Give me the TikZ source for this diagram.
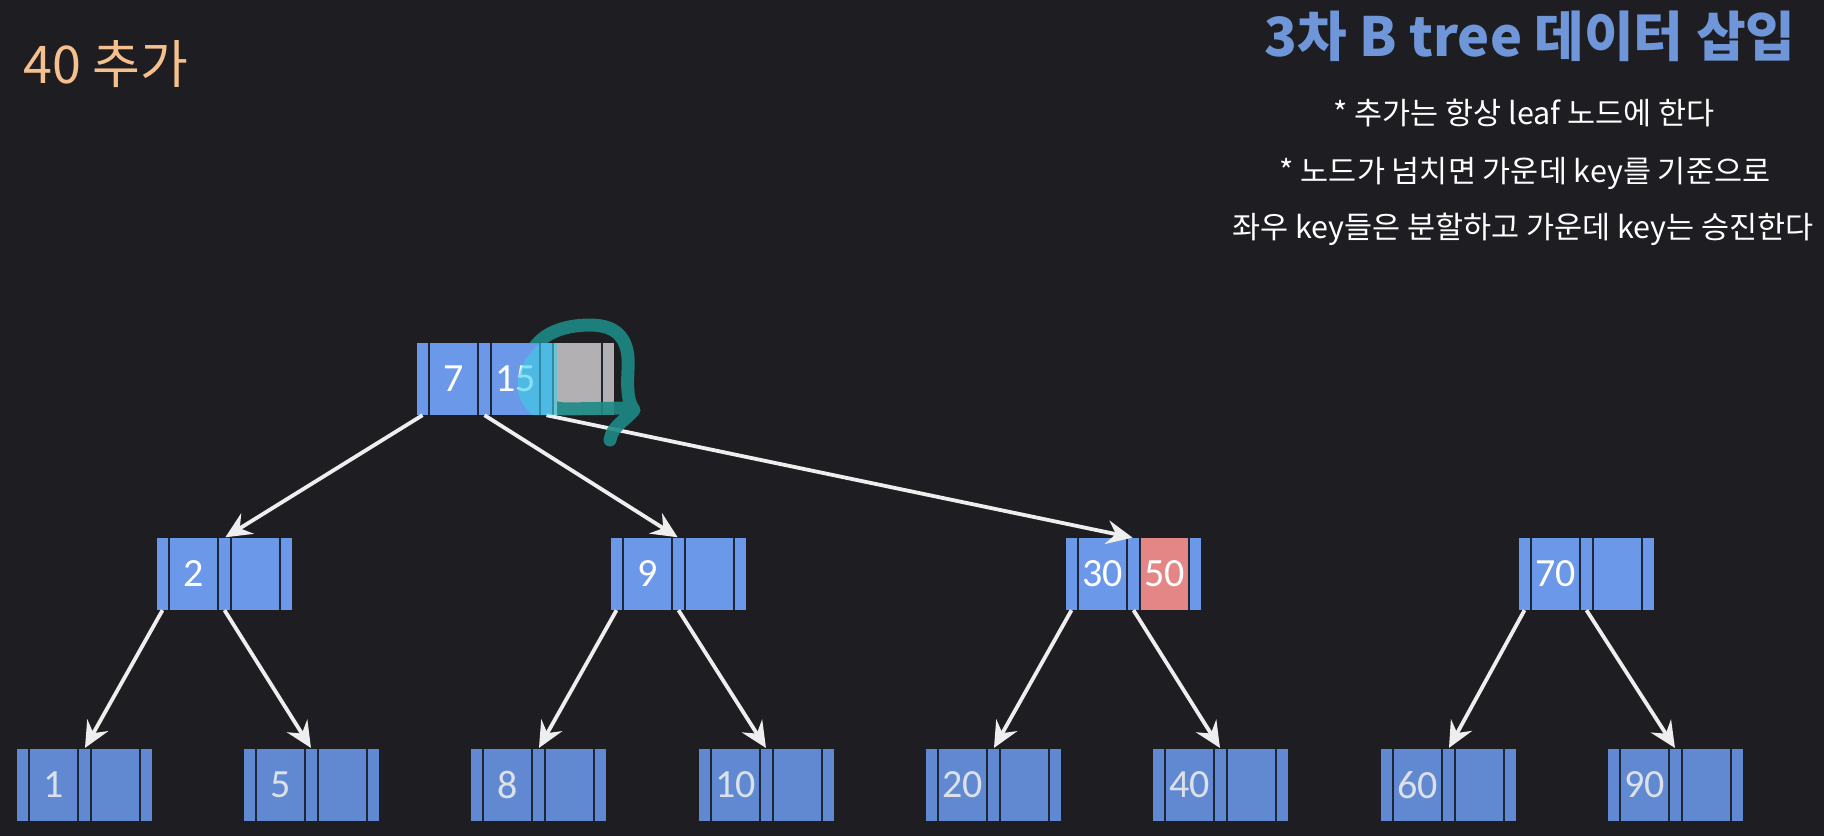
\documentclass[tikz,border=0pt]{standalone}
\usepackage{fontspec}
\setmainfont{Carlito}
\newfontfamily\kr{Noto Sans CJK KR}
\usetikzlibrary{arrows.meta}
\definecolor{bg}{HTML}{1E1D21}
\definecolor{sepc}{HTML}{1F2636}
\definecolor{upblue}{HTML}{6B98E8}
\definecolor{leafblue}{HTML}{6089D2}
\definecolor{greyc}{HTML}{B2B0B3}
\definecolor{redc}{HTML}{E58686}
\definecolor{leaftext}{HTML}{DCE1E9}
\definecolor{titleblue}{HTML}{6E96D9}
\definecolor{peach}{HTML}{F5C08E}
\definecolor{tealc}{HTML}{1C8A85}
\definecolor{cyanhl}{HTML}{3CCFE4}
\definecolor{arrc}{HTML}{EEEEEE}
\tikzset{
  strip/.style={rectangle, draw=none, inner sep=0pt, minimum width=11pt, minimum height=72pt},
  keyc/.style={rectangle, draw=none, inner sep=0pt, minimum width=47pt, minimum height=72pt, font=\fontsize{40}{44}\selectfont},
  arr/.style={draw=arrc, line width=3.8pt, -{Stealth[length=26pt,width=24pt,inset=9pt]}, shorten >=1pt},
  bullet/.style={font=\kr\fontsize{30.5}{34}\selectfont, text=white, inner sep=0pt},
}
% name, x0, ytop, fill, key1, key2, textcolor, key2fill
\newcommand{\BNode}[8]{%
  \fill[sepc] (#2,#3) rectangle ({#2+135},{#3+72});
  \node[strip,fill=#4] (#1s0) at ({#2+5.5},{#3+36}) {};
  \node[keyc,fill=#4,text=#7] (#1k1) at ({#2+36.5},{#3+36}) {#5};
  \node[strip,fill=#4] (#1s1) at ({#2+67.5},{#3+36}) {};
  \node[keyc,fill=#8,text=#7] (#1k2) at ({#2+98.5},{#3+36}) {#6};
  \node[strip,fill=#4] (#1s2) at ({#2+129.5},{#3+36}) {};
}
\begin{document}
\begin{tikzpicture}[x=1pt,y=-1pt]
\fill[bg] (0,0) rectangle (1824,836);
\useasboundingbox (0,0) rectangle (1824,836);

% texts
\node[font=\kr\fontsize{52}{56}\selectfont, text=peach, anchor=west, inner sep=0pt] (step) at (23,64) {40 추가};
\node[font=\kr\bfseries\fontsize{54}{60}\selectfont, text=titleblue, anchor=base, inner sep=0pt] (title) at (1530,56) {3차 B tree 데이터 삽입};
\node[bullet] (b1) at (1524,113) {* 추가는 항상 leaf 노드에 한다};
\node[bullet] (b2) at (1525,173) {* 노드가 넘치면 가운데 key를 기준으로};
\node[bullet] (b3) at (1523,229) {좌우 key들은 분할하고 가운데 key는 승진한다};

% root
\fill[sepc] (417,343) rectangle (614,415);
\node[strip,fill=upblue] (rs0) at (422.5,379) {};
\node[keyc,fill=upblue,text=white] (rk1) at (453.5,379) {7};
\node[strip,fill=upblue] (rs1) at (484.5,379) {};
\node[keyc,fill=upblue,text=white] (rk2) at (515.5,379) {15};
\node[strip,fill=upblue] (rs2) at (546.5,379) {};
\node[keyc,fill=greyc] (rk3) at (577.5,379) {};
\node[strip,fill=greyc] (rs3) at (608.5,379) {};

% level 2
\BNode{a}{157}{538}{upblue}{2}{}{white}{upblue}
\BNode{b}{611}{538}{upblue}{9}{}{white}{upblue}
\BNode{c}{1066}{538}{upblue}{30}{50}{white}{redc}
\BNode{d}{1519}{538}{upblue}{70}{}{white}{upblue}

% leaves
\BNode{l1}{17}{749}{leafblue}{1}{}{leaftext}{leafblue}
\BNode{l2}{244}{749}{leafblue}{5}{}{leaftext}{leafblue}
\BNode{l3}{471}{749}{leafblue}{8}{}{leaftext}{leafblue}
\BNode{l4}{699}{749}{leafblue}{10}{}{leaftext}{leafblue}
\BNode{l5}{926}{749}{leafblue}{20}{}{leaftext}{leafblue}
\BNode{l6}{1153}{749}{leafblue}{40}{}{leaftext}{leafblue}
\BNode{l7}{1381}{749}{leafblue}{60}{}{leaftext}{leafblue}
\BNode{l8}{1608}{749}{leafblue}{90}{}{leaftext}{leafblue}

% arrows
\draw[arr] (rs0.south) -- (as1.north);
\draw[arr] (rs1.south) -- (bs1.north);
\draw[arr] (rs2.south) -- (cs1.north);
\draw[arr] (as0.south) -- (l1s1.north);
\draw[arr] (as1.south) -- (l2s1.north);
\draw[arr] (bs0.south) -- (l3s1.north);
\draw[arr] (bs1.south) -- (l4s1.north);
\draw[arr] (cs0.south) -- (l5s1.north);
\draw[arr] (cs1.south) -- (l6s1.north);
\draw[arr] (ds0.south) -- (l7s1.north);
\draw[arr] (ds1.south) -- (l8s1.north);

% annotation scribble (kept out of the blue part of the root)
\begin{scope}
  \clip (0,0) rectangle (1824,343)
        (0,415) rectangle (1824,836)
        (557,343) rectangle (1824,415)
        (0,343) rectangle (417,415);
  \draw[tealc, line width=13pt, line cap=round, line join=round, opacity=0.9]
    (628,408) -- (565,409)
    .. controls (535,407) and (522,388) .. (528,362)
    .. controls (534,336) and (560,325) .. (590,325)
    .. controls (620,325) and (630,342) .. (628,370)
    .. controls (627,392) and (628,402) .. (634,410)
    .. controls (626,420) and (612,426) .. (610,440);
\end{scope}
\begin{scope}
  \clip (417,343) rectangle (557,415);
  \fill[cyanhl, opacity=0.6] (557,343) -- (557,415) -- (533,415)
    .. controls (515,402) and (508,372) .. (540,343) -- cycle;
\end{scope}
\end{tikzpicture}
\end{document}
